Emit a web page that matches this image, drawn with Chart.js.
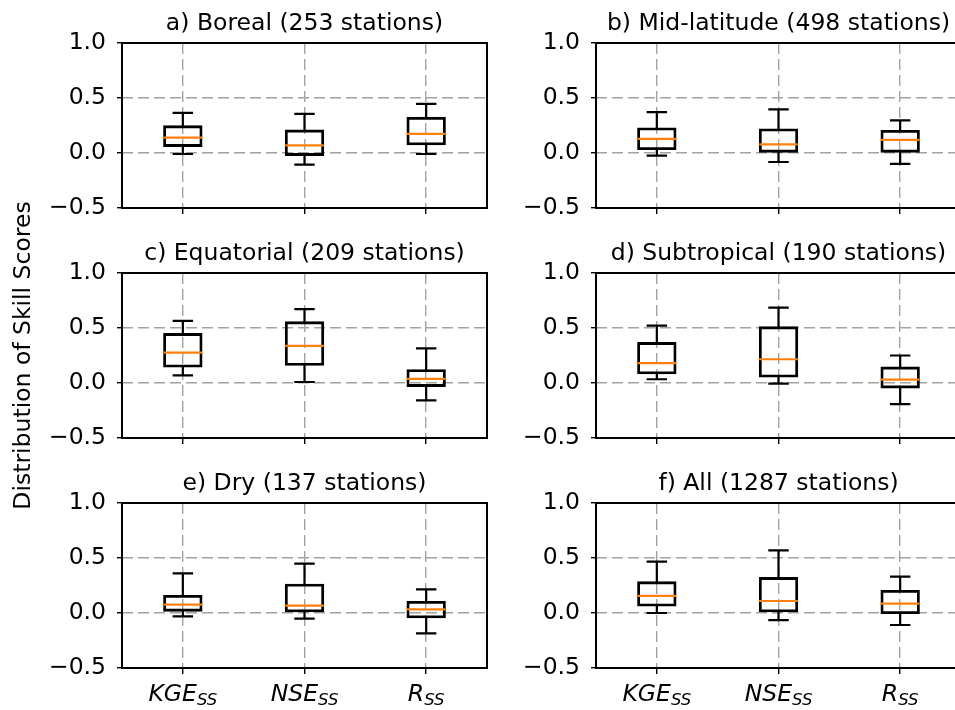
<!DOCTYPE html>
<html><head><meta charset="utf-8">
<script src="https://cdn.jsdelivr.net/npm/chart.js@4.4.1/dist/chart.umd.min.js"></script>
<style>
html,body{margin:0;padding:0;background:#fff;}
#wrap{position:relative;width:955px;height:710px;overflow:hidden;background:#fff;}
#wrap canvas{position:absolute;}
</style></head>
<body><div id="wrap"></div>
<script>
// ---------- data ----------
const panelTitles = [
  'a) Boreal (253 stations)',
  'b) Mid-latitude (498 stations)',
  'c) Equatorial (209 stations)',
  'd) Subtropical (190 stations)',
  'e) Dry (137 stations)',
  'f) All (1287 stations)'
];
const categories = ['KGE_SS', 'NSE_SS', 'R_SS'];
const yTickValues = [-0.5, 0.0, 0.5, 1.0];
const yAxisTitle = 'Distribution of Skill Scores';

const whiskerHigh = [
  [0.365, 0.356, 0.447],
  [0.372, 0.396, 0.296],
  [0.564, 0.671, 0.314],
  [0.521, 0.686, 0.250],
  [0.361, 0.448, 0.215],
  [0.467, 0.570, 0.330]
];
const q3 = [
  [0.249, 0.210, 0.325],
  [0.229, 0.220, 0.207],
  [0.451, 0.558, 0.122],
  [0.369, 0.512, 0.146],
  [0.161, 0.264, 0.106],
  [0.285, 0.324, 0.206]
];
const median = [
  [0.140, 0.070, 0.173],
  [0.128, 0.079, 0.119],
  [0.277, 0.338, 0.037],
  [0.180, 0.216, 0.030],
  [0.076, 0.067, 0.033],
  [0.155, 0.109, 0.085]
];
const q1 = [
  [0.058, -0.024, 0.073],
  [0.030, 0.006, 0.006],
  [0.143, 0.159, -0.033],
  [0.082, 0.052, -0.046],
  [0.015, 0.009, -0.045],
  [0.061, 0.009, -0.006]
];
const whiskerLow = [
  [-0.009, -0.106, -0.009],
  [-0.024, -0.082, -0.098],
  [0.070, 0.009, -0.158],
  [0.034, -0.006, -0.192],
  [-0.030, -0.052, -0.185],
  [0.000, -0.064, -0.109]
];

// ---------- styling / layout ----------
const FONT = 'DejaVu Sans';
const FS = 23.5;
const SUB_FS = 16.5;
const GRID = '#a2a2a2';
const GRID_DASH = [11, 5];
const MEDIAN_COLOR = '#ff7f0e';
Chart.defaults.font.family = FONT;
Chart.defaults.font.size = FS;
Chart.defaults.color = '#000';

const PLOT_W = 365, PLOT_H = 165, PAD_RIGHT = 10;
const colPlotLeft = [122, 596];
const colCanvasLeft = [0, 516];
const rowPlotTop = [43, 273, 503];

function fmtTick(v) {
  v = Number(v);
  if (Math.abs(v) < 1e-9) return '0.0';
  return (v < 0 ? '\u2212' : '') + Math.abs(v).toFixed(1);
}

const boxPlugin = {
  id: 'boxExtras',
  afterDatasetsDraw(chart, args, opts) {
    const p = opts.panel;
    const xs = chart.scales.x, ys = chart.scales.y, ctx = chart.ctx;
    const meta = chart.getDatasetMeta(0);
    ctx.save();
    for (let i = 0; i < categories.length; i++) {
      const x = xs.getPixelForValue(i);
      const outerHalf = meta.data[i].width / 2;
      const half = outerHalf - 1.1;
      const capHalf = half / 2;
      const yHi = ys.getPixelForValue(whiskerHigh[p][i]);
      const yQ3 = ys.getPixelForValue(q3[p][i]);
      const yQ1 = ys.getPixelForValue(q1[p][i]);
      const yLo = ys.getPixelForValue(whiskerLow[p][i]);
      const yMed = ys.getPixelForValue(median[p][i]);
      ctx.strokeStyle = '#000';
      ctx.lineWidth = 2.2;
      ctx.lineCap = 'square';
      ctx.beginPath();
      ctx.moveTo(x, yQ3); ctx.lineTo(x, yHi);
      ctx.moveTo(x, yQ1); ctx.lineTo(x, yLo);
      ctx.moveTo(x - capHalf, yHi); ctx.lineTo(x + capHalf, yHi);
      ctx.moveTo(x - capHalf, yLo); ctx.lineTo(x + capHalf, yLo);
      ctx.stroke();
      ctx.strokeStyle = MEDIAN_COLOR;
      ctx.lineCap = 'butt';
      ctx.beginPath();
      ctx.moveTo(x - outerHalf, yMed); ctx.lineTo(x + outerHalf, yMed);
      ctx.stroke();
    }
    ctx.restore();
  }
};

const framePlugin = {
  id: 'frame',
  afterDraw(chart, args, opts) {
    const ctx = chart.ctx, a = chart.chartArea;
    ctx.save();
    ctx.strokeStyle = '#000';
    ctx.lineWidth = 2;
    ctx.strokeRect(a.left, a.top, a.right - a.left, a.bottom - a.top);
    // panel title
    ctx.fillStyle = '#000';
    ctx.font = FS + 'px "' + FONT + '"';
    ctx.textAlign = 'center';
    ctx.textBaseline = 'alphabetic';
    ctx.fillText(opts.title, (a.left + a.right) / 2, a.top - 13.4);
    // x tick labels with subscripts
    if (opts.xLabels) {
      const xs = chart.scales.x;
      ctx.textAlign = 'left';
      categories.forEach((lab, i) => {
        const parts = lab.split('_');
        const main = parts[0], sub = parts[1] || '';
        ctx.font = 'italic ' + FS + 'px "' + FONT + '"';
        const wm = ctx.measureText(main).width;
        ctx.font = 'italic ' + SUB_FS + 'px "' + FONT + '"';
        const ws = ctx.measureText(sub).width;
        const x0 = xs.getPixelForValue(i) - (wm + ws) / 2;
        const base = a.bottom + 33.4;
        ctx.font = 'italic ' + FS + 'px "' + FONT + '"';
        ctx.fillText(main, x0, base);
        ctx.font = 'italic ' + SUB_FS + 'px "' + FONT + '"';
        ctx.fillText(sub, x0 + wm, base + 3.3);
      });
    }
    ctx.restore();
  }
};

const wrap = document.getElementById('wrap');
for (let p = 0; p < 6; p++) {
  const col = p % 2, row = Math.floor(p / 2);
  const hasYTitle = (p === 2);
  const padTop = hasYTitle ? 90 : 40;
  const xAxisH = hasYTitle ? 90 : 50;
  const yAxisW = colPlotLeft[col] - colCanvasLeft[col];
  const cw = yAxisW + PLOT_W + PAD_RIGHT;
  const ch = padTop + PLOT_H + xAxisH;
  const cv = document.createElement('canvas');
  cv.width = cw; cv.height = ch;
  cv.style.width = cw + 'px'; cv.style.height = ch + 'px';
  cv.style.left = colCanvasLeft[col] + 'px';
  cv.style.top = (rowPlotTop[row] - padTop) + 'px';
  wrap.appendChild(cv);

  new Chart(cv, {
    type: 'bar',
    data: {
      labels: categories,
      datasets: [{
        data: categories.map((_, i) => [q1[p][i], q3[p][i]]),
        backgroundColor: 'rgba(0,0,0,0)',
        borderColor: '#000',
        borderWidth: 2.2,
        borderSkipped: false,
        barThickness: 38.7
      }]
    },
    options: {
      responsive: false,
      animation: false,
      devicePixelRatio: 1,
      layout: { padding: { top: padTop, right: PAD_RIGHT, left: 0, bottom: 0 } },
      plugins: {
        legend: { display: false },
        tooltip: { enabled: false },
        title: { display: false },
        boxExtras: { panel: p },
        frame: { title: panelTitles[p], xLabels: row === 2 }
      },
      scales: {
        x: {
          type: 'category',
          offset: true,
          grid: { offset: false, color: GRID, lineWidth: 1.4, drawTicks: true, tickLength: 6, tickColor: '#000', tickWidth: 1.4 },
          border: { display: false, dash: GRID_DASH },
          ticks: { display: false },
          afterFit(s) { s.height = xAxisH; }
        },
        y: {
          min: -0.5, max: 1.0,
          afterBuildTicks(s) { s.ticks = yTickValues.map(v => ({ value: v })); },
          ticks: { callback: fmtTick, padding: 11, color: '#000', font: { size: FS } },
          grid: { color: GRID, lineWidth: 1.4, drawTicks: true, tickLength: 5, tickColor: '#000', tickWidth: 1.4 },
          border: { display: false, dash: GRID_DASH },
          title: { display: hasYTitle, text: yAxisTitle, color: '#000', font: { size: FS }, padding: { top: 10, bottom: 0 } },
          afterFit(s) { s.width = yAxisW; }
        }
      }
    },
    plugins: [boxPlugin, framePlugin]
  });
}
</script>
</body></html>
